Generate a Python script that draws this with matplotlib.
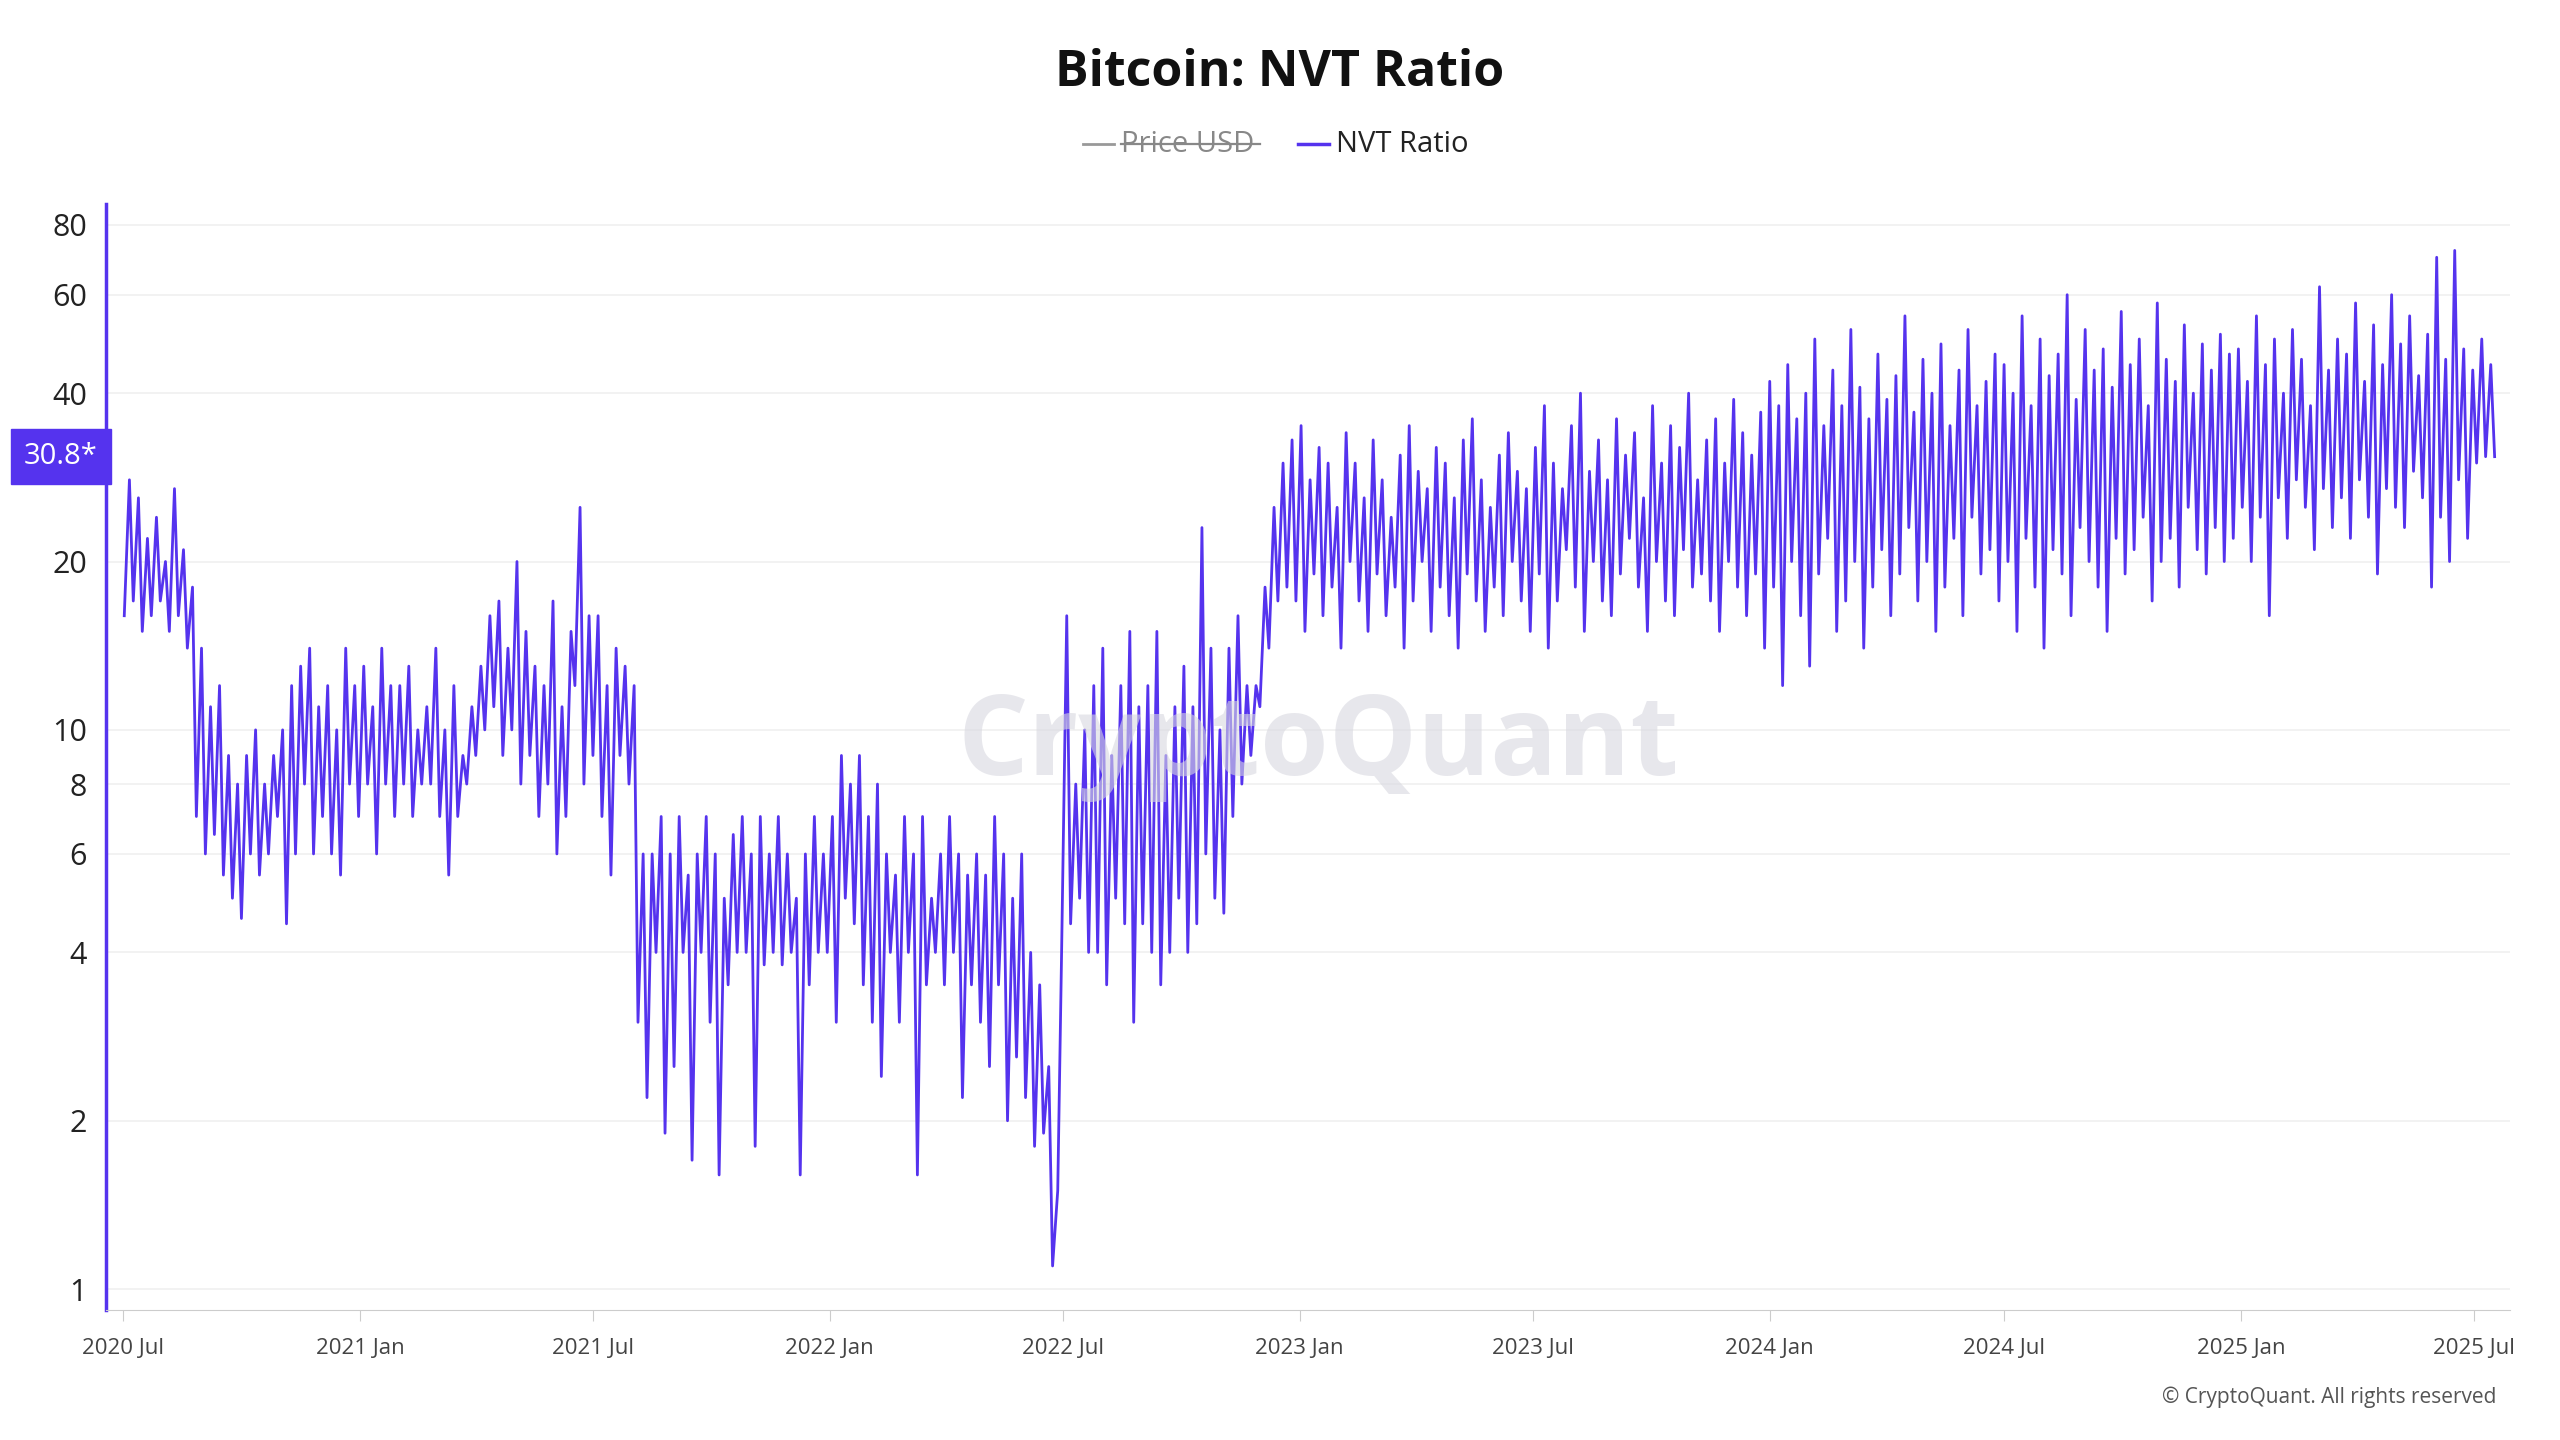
import numpy as np
import pandas as pd
import matplotlib.pyplot as plt
import matplotlib.dates as mdates
from matplotlib.lines import Line2D

plt.rcParams["font.family"] = "Open Sans"

# weekly highs / lows of NVT ratio (weeks from 2020-07-06)
highs_2020 = [28, 26, 22, 24, 20, 27, 21, 18, 14, 11, 12, 9, 8, 9, 10, 8, 9, 10, 12, 13, 14, 11, 12, 10, 14, 12]
lows_2020 = [16, 17, 15, 16, 17, 15, 16, 14, 7, 6, 6.5, 5.5, 5, 4.6, 6, 5.5, 6, 7, 4.5, 6, 8, 6, 7, 6, 5.5, 8]
highs_2021 = [13, 11, 14, 12, 12, 13, 10, 11, 14, 10, 12, 9, 11, 13, 16, 17, 14, 20, 15, 13, 12,
              17, 11, 15, 25, 16, 16, 12, 14, 13, 12, 6, 6, 7, 6, 7, 5.5, 6, 7, 6, 5, 6.5, 7,
              6, 7, 6, 7, 6, 5, 6, 7, 6]
lows_2021 = [7, 8, 6, 8, 7, 8, 7, 8, 8, 7, 5.5, 7, 8, 9, 10, 11, 9, 10, 8, 9, 7,
             8, 6, 7, 12, 8, 9, 7, 5.5, 9, 8, 3.0, 2.2, 4, 1.9, 2.5, 4, 1.7, 4, 3, 1.6, 3.5, 4,
             4, 1.8, 3.8, 4, 3.8, 4, 1.6, 3.5, 4]
highs_2022 = [7, 9, 8, 9, 7, 8, 6, 5.5, 7, 6, 7, 5, 6, 7, 6, 5.5, 6, 5.5, 7, 6, 5, 6,
              4, 3.5, 2.5, 1.5, 16, 8, 10, 12, 14, 9, 12, 15, 11, 12, 15, 9, 11,
              13, 11, 23, 14, 10, 14, 16, 12, 12, 18, 25, 30, 33]
lows_2022 = [4, 3, 5, 4.5, 3.5, 3, 2.4, 4, 3, 4, 1.6, 3.5, 4, 3.5, 4, 2.2, 3.5, 3, 2.5, 3.5, 2, 2.6,
             2.2, 1.8, 1.9, 1.1, 4, 4.5, 5, 4, 4, 3.5, 5, 4.5, 3, 4.5, 4, 3.5, 4,
             5, 4, 4.5, 6, 5, 4.7, 7, 8, 9, 11, 14, 17, 18]
highs_2023 = [35, 28, 32, 30, 25, 34, 30, 26, 33, 28, 24, 31, 35, 29, 27, 32, 30, 26, 33, 36, 28, 25, 31, 34, 29, 27,
              32, 38, 30, 27, 35, 40, 29, 33, 28, 36, 31, 34, 26, 38, 30, 35, 32, 40, 28, 33, 36, 30, 39, 34, 31, 37]
lows_2023 = [17, 15, 19, 16, 18, 14, 20, 17, 15, 19, 16, 18, 14, 17, 20, 15, 18, 16, 14, 19, 17, 15, 18, 16, 20, 17,
             15, 19, 14, 17, 21, 18, 15, 20, 17, 16, 19, 22, 18, 15, 20, 17, 16, 21, 18, 19, 17, 15, 20, 18, 16, 19]
highs_2024 = [42, 38, 45, 36, 40, 50, 35, 44, 38, 52, 41, 36, 47, 39, 43, 55, 37, 46, 40, 49, 35, 44, 52, 38, 42, 47,
              45, 40, 55, 38, 50, 43, 47, 60, 39, 52, 44, 48, 41, 56, 45, 50, 38, 58, 46, 42, 53, 40, 49, 44, 51, 47]
lows_2024 = [14, 18, 12, 20, 16, 13, 19, 22, 15, 17, 20, 14, 18, 21, 16, 19, 23, 17, 20, 15, 18, 22, 16, 24, 19, 21,
             17, 20, 15, 22, 18, 14, 21, 19, 16, 23, 20, 18, 15, 22, 19, 21, 24, 17, 20, 22, 18, 25, 21, 19, 23, 20]
highs_2025 = [48, 42, 55, 45, 50, 40, 52, 46, 38, 62, 44, 50, 47, 58, 42, 53, 45, 60, 49, 55, 43, 51, 70, 46, 72, 48, 44, 50, 45]
lows_2025 = [22, 25, 20, 24, 16, 26, 22, 28, 25, 21, 27, 23, 26, 22, 28, 24, 19, 27, 25, 23, 29, 26, 18, 24, 20, 28, 22, 30, 30.8]

highs = highs_2020 + highs_2021 + highs_2022 + highs_2023 + highs_2024 + highs_2025
lows = lows_2020 + lows_2021 + lows_2022 + lows_2023 + lows_2024 + lows_2025
n = min(len(highs), len(lows))

week_start = pd.date_range("2020-07-01", periods=n, freq="7D")
dates, vals = [], []
for i in range(n):
    dates.append(week_start[i] + pd.Timedelta(days=1))
    vals.append(lows[i])
    dates.append(week_start[i] + pd.Timedelta(days=5))
    vals.append(highs[i])
# finish on the last low
dates.append(week_start[n - 1] + pd.Timedelta(days=8))
vals.append(lows[n - 1])

purple = "#5533EE"
last_val = vals[-1]

fig = plt.figure(figsize=(25.6, 14.4), dpi=100)
ax = fig.add_axes([0.0415, 0.09, 0.939, 0.768])

ax.plot(dates, vals, color=purple, linewidth=2.0)
ax.set_yscale("log")
ax.set_ylim(0.916, 87)
ax.set_xlim(pd.Timestamp("2020-06-18"), pd.Timestamp("2025-07-29"))

yt = [1, 2, 4, 6, 8, 10, 20, 40, 60, 80]
ax.set_yticks(yt)
ax.set_yticklabels([str(v) for v in yt])
ax.yaxis.set_minor_locator(plt.NullLocator())
ax.tick_params(axis="y", length=0, labelsize=22, pad=14, colors="#222222")
for v in yt:
    ax.axhline(v, color="#f0f0f0", linewidth=1.2, zorder=0)

xt = pd.date_range("2020-07-01", "2025-07-01", freq="6MS")
ax.set_xticks(xt)
ax.set_xticklabels([d.strftime("%Y %b") for d in xt])
ax.tick_params(axis="x", length=8, color="#cccccc", labelsize=16, pad=12, labelcolor="#444444")

for s in ["top", "right"]:
    ax.spines[s].set_visible(False)
ax.spines["bottom"].set_color("#cccccc")
ax.spines["left"].set_color(purple)
ax.spines["left"].set_linewidth(2.5)

# current value badge on the y axis
ax.annotate(f"{last_val:.1f}*", xy=(0, last_val), xycoords=("axes fraction", "data"),
            xytext=(-6, 0), textcoords="offset points", ha="right", va="center",
            fontsize=21, color="white",
            bbox=dict(boxstyle="square,pad=0.45", fc=purple, ec=purple))

# title and legend
fig.text(0.5, 0.949, "Bitcoin: NVT Ratio", ha="center", va="center", fontsize=36, fontweight="bold", color="#111111")
fig.lines.append(Line2D([0.423, 0.435], [0.900, 0.900], transform=fig.transFigure, color="#999999", lw=2))
fig.text(0.438, 0.900, "Price USD", ha="left", va="center", fontsize=21, color="#888888")
fig.lines.append(Line2D([0.438, 0.492], [0.900, 0.900], transform=fig.transFigure, color="#888888", lw=1.6))
fig.lines.append(Line2D([0.507, 0.519], [0.900, 0.900], transform=fig.transFigure, color=purple, lw=2.5))
fig.text(0.522, 0.900, "NVT Ratio", ha="left", va="center", fontsize=21, color="#222222")

# watermark and copyright
fig.text(0.515, 0.482, "CryptoQuant", ha="center", va="center", fontsize=80, fontweight="bold",
         color="#d8d8e0", alpha=0.6, zorder=0)
fig.text(0.975, 0.03, "© CryptoQuant. All rights reserved", ha="right", va="center", fontsize=15, color="#555555")

fig.savefig("out.png", dpi=100, facecolor="white")
